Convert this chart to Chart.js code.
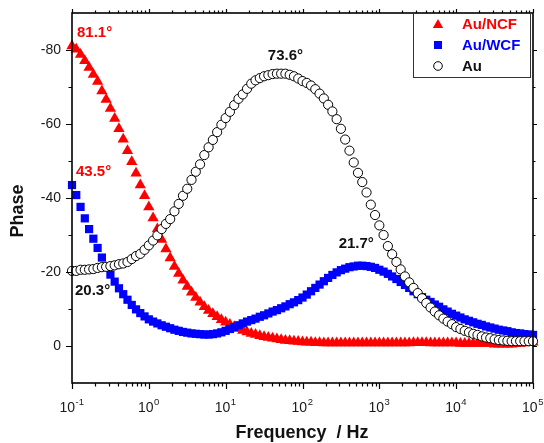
<!DOCTYPE html>
<html>
<head>
<meta charset="utf-8">
<script src="https://cdn.jsdelivr.net/npm/chart.js@4/dist/chart.umd.min.js"></script>
<style>
  html, body { margin: 0; padding: 0; background: #fff; }
  #wrap { width: 544px; height: 443px; }
</style>
</head>
<body>
<div id="wrap"><canvas id="phaseChart" width="544" height="443"></canvas></div>
<script>
// measured frequencies, 18 points per decade
const freqHz = [
  0.1, 0.1136, 0.1292, 0.1468, 0.1668, 0.1896, 0.2154, 0.2448, 0.2783, 0.3162, 0.3594, 0.4084, 0.4642, 0.5275, 0.5995, 0.6813, 0.7743, 0.8799,
  1, 1.136, 1.292, 1.468, 1.668, 1.896, 2.154, 2.448, 2.783, 3.162, 3.594, 4.084, 4.642, 5.275, 5.995, 6.813, 7.743, 8.799,
  10, 11.36, 12.92, 14.68, 16.68, 18.96, 21.54, 24.48, 27.83, 31.62, 35.94, 40.84, 46.42, 52.75, 59.95, 68.13, 77.43, 87.99,
  100, 113.6, 129.2, 146.8, 166.8, 189.6, 215.4, 244.8, 278.3, 316.2, 359.4, 408.4, 464.2, 527.5, 599.5, 681.3, 774.3, 879.9,
  1000, 1136, 1292, 1468, 1668, 1896, 2154, 2448, 2783, 3162, 3594, 4084, 4642, 5275, 5995, 6813, 7743, 8799,
  10000, 11360, 12920, 14680, 16680, 18960, 21540, 24480, 27830, 31620, 35940, 40840, 46420, 52750, 59950, 68130, 77430, 87990,
  100000
];

const phaseNCF = [
  -81.1, -80.2, -78.8, -77.1, -75.3, -73.4, -71.5, -68.9, -66.6, -64.2, -61.5, -58.7, -55.9, -52.8, -49.8, -46.7, -43.5, -40.6,
  -37.6, -34.6, -31.6, -28.8, -26.2, -23.8, -21.5, -19.6, -17.8, -16.1, -14.5, -13.1, -11.8, -10.6, -9.6, -8.7, -7.9, -7.1,
  -6.4, -5.8, -5.2, -4.7, -4.2, -3.8, -3.4, -3.1, -2.8, -2.5, -2.3, -2.1, -1.9, -1.7, -1.5, -1.4, -1.3, -1.2,
  -1.1, -1.0, -1.0, -0.9, -0.9, -0.8, -0.8, -0.8, -0.8, -0.8, -0.8, -0.8, -0.8, -0.8, -0.8, -0.8, -0.8, -0.8,
  -0.8, -0.8, -0.8, -0.8, -0.8, -0.8, -0.8, -0.8, -0.9, -0.9, -0.9, -0.9, -0.8, -0.8, -0.8, -0.8, -0.8, -0.8,
  -0.8, -0.7, -0.7, -0.7, -0.7, -0.7, -0.7, -0.7, -0.7, -0.5, -0.5, -0.5, -0.5, -0.5, -0.6, -0.7, -0.8, -0.9,
  -1.0
];

const phaseWCF = [
  -43.5, -40.8, -37.6, -34.5, -31.6, -29.0, -26.5, -23.9, -21.5, -19.3, -17.4, -15.6, -14.0, -12.5, -11.1, -9.9, -8.9, -8.0,
  -7.2, -6.6, -6.1, -5.6, -5.2, -4.8, -4.4, -4.1, -3.8, -3.6, -3.4, -3.3, -3.2, -3.1, -3.1, -3.2, -3.4, -3.7,
  -4.1, -4.6, -5.1, -5.6, -6.1, -6.6, -7.0, -7.4, -7.9, -8.3, -8.8, -9.3, -9.7, -10.2, -10.7, -11.3, -11.8, -12.4,
  -13.1, -13.9, -14.8, -15.7, -16.6, -17.5, -18.4, -19.2, -19.9, -20.5, -20.9, -21.3, -21.5, -21.7, -21.7, -21.6, -21.4, -21.1,
  -20.6, -20.1, -19.5, -18.8, -18.1, -17.3, -16.5, -15.7, -14.8, -14.0, -13.2, -12.5, -11.9, -11.2, -10.6, -9.9, -9.3, -8.7,
  -8.2, -7.7, -7.2, -6.8, -6.4, -6.0, -5.7, -5.3, -5.0, -4.7, -4.4, -4.2, -4.0, -3.7, -3.5, -3.4, -3.2, -3.1,
  -3.0
];

const phaseAu = [
  -20.3, -20.3, -20.6, -20.6, -20.7, -20.8, -21.1, -21.3, -21.4, -21.6, -21.8, -22.1, -22.3, -22.7, -23.5, -24.3, -24.9, -26.0,
  -27.2, -28.5, -29.9, -31.6, -33.0, -34.3, -36.4, -38.4, -40.6, -42.5, -44.9, -47.1, -49.1, -51.6, -53.7, -55.7, -57.8, -59.8,
  -61.6, -63.3, -65.1, -66.8, -68.0, -69.5, -70.9, -71.8, -72.4, -72.9, -73.2, -73.5, -73.6, -73.6, -73.6, -73.3, -72.9, -72.3,
  -71.6, -71.1, -70.4, -69.4, -68.2, -66.9, -65.2, -63.4, -61.3, -58.7, -55.8, -52.8, -49.6, -46.8, -44.3, -41.5, -38.2, -35.4,
  -32.6, -30.0, -27.0, -24.8, -22.7, -20.7, -18.8, -17.2, -15.7, -14.3, -12.9, -11.6, -10.4, -9.3, -8.3, -7.4, -6.6, -5.9,
  -5.1, -4.6, -4.1, -3.7, -3.3, -3.0, -2.6, -2.3, -2.1, -1.8, -1.6, -1.5, -1.4, -1.3, -1.3, -1.3, -1.3, -1.3,
  -1.3
];

const seriesNames = ['Au/NCF', 'Au/WCF', 'Au'];
const yTicks = [-80, -60, -40, -20, 0];
const xDecades = [-1, 0, 1, 2, 3, 4, 5];

// peak / start values written next to the curves
const noteText = ['81.1°', '43.5°', '20.3°', '73.6°', '21.7°'];
const noteFreq = [0.1, 0.1, 0.1, 59.95, 599.5];
const noteValue = [-81.1, -43.5, -20.3, -73.6, -21.7];

const FONT = "'Liberation Sans', Arial, sans-serif";
const RED = '#ff0000', BLUE = '#0000ff';

function toPoints(vals) {
  return freqHz.map((f, i) => ({ x: f, y: vals[i] }));
}

function drawTriangle(ctx, x, y, r) {
  ctx.beginPath();
  ctx.moveTo(x, y - r);
  ctx.lineTo(x + r * 0.866, y + r / 2);
  ctx.lineTo(x - r * 0.866, y + r / 2);
  ctx.closePath();
  ctx.fill();
}

const axesAndText = {
  id: 'axesAndText',
  afterDraw(chart) {
    const { ctx, chartArea: a, scales: { x, y } } = chart;
    ctx.save();

    // plot frame
    ctx.strokeStyle = '#000';
    ctx.lineWidth = 1.6;
    ctx.strokeRect(a.left, a.top, a.right - a.left, a.bottom - a.top);

    // tick marks
    ctx.lineWidth = 1.2;
    ctx.beginPath();
    for (let v = -80; v <= 0; v += 10) {
      const py = Math.round(y.getPixelForValue(v)) + 0.5;
      const major = yTicks.includes(v);
      ctx.moveTo(a.left - (major ? 6 : 3.5), py); ctx.lineTo(a.left, py);
      ctx.moveTo(a.right, py); ctx.lineTo(a.right + (major ? 4 : 2.5), py);
    }
    xDecades.forEach(d => {
      for (let m = 1; m <= 9; m++) {
        if (d === 5 && m > 1) break;
        const px = Math.round(x.getPixelForValue(m * Math.pow(10, d))) + 0.5;
        const major = m === 1;
        ctx.moveTo(px, a.bottom); ctx.lineTo(px, a.bottom + (major ? 6 : 3.5));
        ctx.moveTo(px, a.top); ctx.lineTo(px, a.top - (major ? 4 : 2.5));
      }
    });
    ctx.stroke();

    // y tick labels
    ctx.fillStyle = '#1a1a1a';
    ctx.font = '14px ' + FONT;
    ctx.textAlign = 'right';
    ctx.textBaseline = 'middle';
    yTicks.forEach(v => ctx.fillText(String(v), a.left - 11, y.getPixelForValue(v) + 0.5));

    // x tick labels: 10 with superscript exponent
    ctx.textBaseline = 'alphabetic';
    ctx.textAlign = 'left';
    xDecades.forEach(d => {
      const px = x.getPixelForValue(Math.pow(10, d));
      ctx.font = '14px ' + FONT;
      const wb = ctx.measureText('10').width;
      ctx.font = '9.5px ' + FONT;
      const we = ctx.measureText(String(d)).width;
      const left = px - (wb + we) / 2 - 0.5;
      ctx.font = '14px ' + FONT;
      ctx.fillText('10', left, 412);
      ctx.font = '9.5px ' + FONT;
      ctx.fillText(String(d), left + wb + 0.5, 405);
    });

    // axis titles
    ctx.fillStyle = '#111';
    ctx.font = 'bold 18px ' + FONT;
    ctx.textAlign = 'center';
    ctx.textBaseline = 'middle';
    ctx.fillText('Frequency  / Hz', 302, 433);
    ctx.save();
    ctx.translate(18, 211);
    ctx.rotate(-Math.PI / 2);
    ctx.fillText('Phase', 0, 0);
    ctx.restore();

    // value notes
    ctx.font = 'bold 15px ' + FONT;
    const noteColor = [RED, RED, '#111', '#111', '#111'];
    const noteAlign = ['left', 'left', 'left', 'center', 'center'];
    const noteShift = [[5, -13], [4, -13], [3, 20], [0, -18], [-6, -22]];
    noteText.forEach((t, i) => {
      ctx.fillStyle = noteColor[i];
      ctx.textAlign = noteAlign[i];
      ctx.fillText(t, x.getPixelForValue(noteFreq[i]) + noteShift[i][0],
                   y.getPixelForValue(noteValue[i]) + noteShift[i][1]);
    });

    // legend box
    const bx = 413, by = a.top, bw = 117, bh = 64;
    ctx.fillStyle = '#fff';
    ctx.fillRect(bx, by, bw, bh);
    ctx.strokeStyle = '#333';
    ctx.lineWidth = 1;
    ctx.strokeRect(bx + 0.5, by + 0.5, bw, bh);
    const rowY = [24, 45, 66];
    const rowColor = [RED, BLUE, '#111'];
    // markers
    ctx.fillStyle = RED;
    drawTriangle(ctx, 438, rowY[0] + 1, 6);
    ctx.fillStyle = BLUE;
    ctx.fillRect(434, rowY[1] - 4, 8, 8);
    ctx.beginPath();
    ctx.arc(438, rowY[2], 4.3, 0, Math.PI * 2);
    ctx.fillStyle = '#fff';
    ctx.fill();
    ctx.strokeStyle = '#000';
    ctx.stroke();
    ctx.font = 'bold 15px ' + FONT;
    ctx.textAlign = 'left';
    ctx.textBaseline = 'middle';
    seriesNames.forEach((n, i) => {
      ctx.fillStyle = rowColor[i];
      ctx.fillText(n, 462, rowY[i] + 0.5);
    });

    ctx.restore();
  }
};

const ctx = document.getElementById('phaseChart').getContext('2d');
new Chart(ctx, {
  type: 'scatter',
  data: {
    datasets: [
      {
        label: seriesNames[0],
        data: toPoints(phaseNCF),
        pointStyle: 'triangle',
        pointRadius: 6.5,
        backgroundColor: RED,
        borderColor: RED,
        borderWidth: 0,
        clip: false,
        order: 2
      },
      {
        label: seriesNames[1],
        data: toPoints(phaseWCF),
        pointStyle: 'rect',
        pointRadius: 5.8,
        backgroundColor: BLUE,
        borderColor: BLUE,
        borderWidth: 0,
        clip: false,
        order: 1
      },
      {
        label: seriesNames[2],
        data: toPoints(phaseAu),
        pointStyle: 'circle',
        pointRadius: 4.6,
        backgroundColor: '#fff',
        borderColor: '#000',
        borderWidth: 1,
        clip: false,
        order: 0
      }
    ]
  },
  options: {
    responsive: false,
    animation: false,
    events: [],
    layout: { padding: { left: 72, right: 11, top: 13, bottom: 60 } },
    plugins: { legend: { display: false }, tooltip: { enabled: false } },
    scales: {
      x: { type: 'logarithmic', min: 0.1, max: 100000, display: false },
      y: { min: -90, max: 10, reverse: true, display: false }
    }
  },
  plugins: [axesAndText]
});
</script>
</body>
</html>
